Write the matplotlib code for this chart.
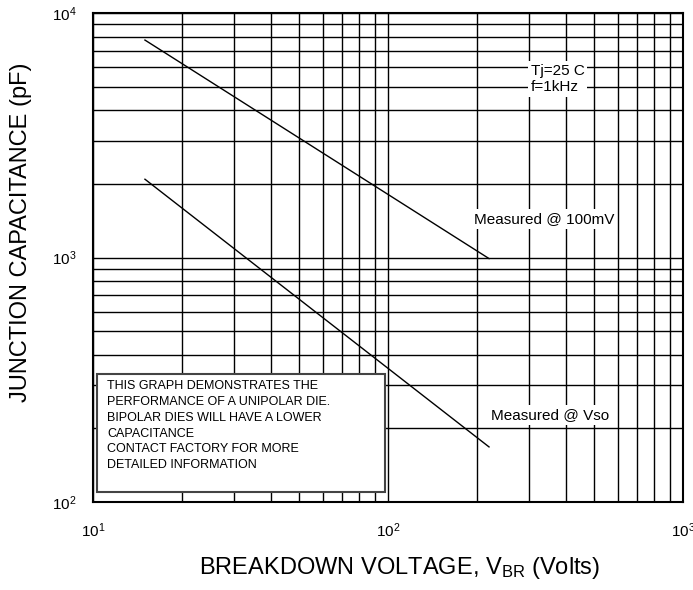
import matplotlib
matplotlib.use('Agg')
import matplotlib.pyplot as plt
from matplotlib.patches import Rectangle

plt.rcParams['font.family'] = ['Liberation Sans', 'DejaVu Sans']
plt.rcParams['mathtext.default'] = 'regular'

# breakdown voltage (V) and junction capacitance (pF)
vbr_100mv = [15, 220]
cap_100mv = [7750, 990]
vbr_vso = [15, 220]
cap_vso = [2090, 168]

note = ("THIS GRAPH DEMONSTRATES THE\n"
        "PERFORMANCE OF A UNIPOLAR DIE.\n"
        "BIPOLAR DIES WILL HAVE A LOWER\n"
        "CAPACITANCE\n"
        "CONTACT FACTORY FOR MORE\n"
        "DETAILED INFORMATION")

fig = plt.figure(figsize=(6.93, 5.90), dpi=100)
ax = fig.add_axes([93 / 693, 88 / 590, 590 / 693, 489 / 590])

ax.set_xscale('log')
ax.set_yscale('log')
ax.set_xlim(10, 1000)
ax.set_ylim(100, 10000)

ax.grid(which='both', color='black', linewidth=1.0)
ax.set_axisbelow(True)
for s in ax.spines.values():
    s.set_linewidth(1.5)

ax.plot(vbr_100mv, cap_100mv, color='black', linewidth=1.0)
ax.plot(vbr_vso, cap_vso, color='black', linewidth=1.0)

ax.set_xticks([10, 100, 1000])
ax.set_xticklabels(['$10^{1}$', '$10^{2}$', '$10^{3}$'])
ax.set_yticks([100, 1000, 10000])
ax.set_yticklabels(['$10^{2}$', '$10^{3}$', '$10^{4}$'])
ax.tick_params(which='both', length=0, labelsize=11)
ax.tick_params(axis='x', pad=14)
ax.tick_params(axis='y', pad=12)

ax.set_xlabel('BREAKDOWN VOLTAGE, V$_{BR}$ (Volts)', fontsize=17)
ax.set_ylabel('JUNCTION CAPACITANCE (pF)', fontsize=17)
ax.xaxis.set_label_coords(0.52, -0.108)
ax.yaxis.set_label_coords(-0.103, 0.552)

white = dict(facecolor='white', edgecolor='none', pad=2)
ax.text(0.742, 0.865, 'Tj=25 C\nf=1kHz', transform=ax.transAxes,
        ha='left', va='center', fontsize=11, linespacing=1.2, bbox=white)
ax.text(0.765, 0.579, 'Measured @ 100mV', transform=ax.transAxes,
        ha='center', va='center', fontsize=11, bbox=white)
ax.text(0.775, 0.178, 'Measured @ Vso', transform=ax.transAxes,
        ha='center', va='center', fontsize=11, bbox=white)

box = Rectangle((0.0068, 0.0205), 0.488, 0.2413, transform=ax.transAxes,
                facecolor='white', edgecolor='#444444', linewidth=1.5, zorder=3)
ax.add_patch(box)
ax.text(0.024, 0.249, note, transform=ax.transAxes, ha='left', va='top',
        fontsize=9, linespacing=1.42, zorder=4)

fig.savefig('out.png', dpi=100)
